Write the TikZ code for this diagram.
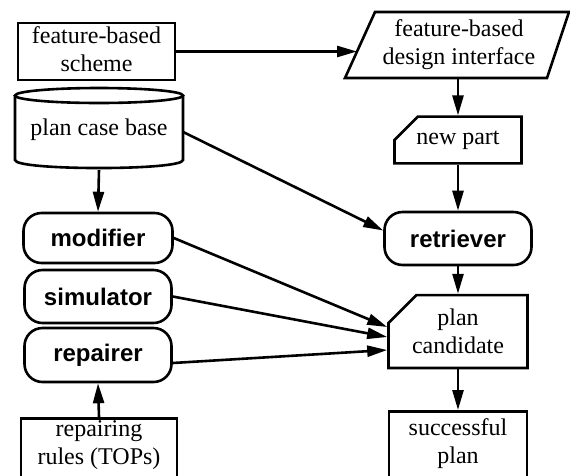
\documentclass[tikz,border=0pt]{standalone}
\usepackage{fontspec}
\setmainfont{Liberation Serif}
\newfontfamily\hsans{Liberation Sans}
\usetikzlibrary{arrows.meta,shapes.misc,calc}
\begin{document}
\begin{tikzpicture}[x=1pt,y=-1pt,
  ln/.style={line width=2.6pt},
  arr/.style={ln,-{Triangle[length=20pt,width=11pt]}},
  txt/.style={inner sep=0pt,align=center,font=\fontsize{24}{28}\selectfont},
  sq/.style={txt,draw,ln},
  rnd/.style={draw,ln,rounded corners=18pt,inner sep=0pt,font=\hsans\bfseries\fontsize{24}{28}\selectfont},
  cham/.style={sq,chamfered rectangle,chamfered rectangle corners=north west,chamfered rectangle xsep=14pt,chamfered rectangle ysep=14pt}
]
\useasboundingbox (0,0) rectangle (570,475);
\clip (0,0) rectangle (570,475);
% left column
\node[sq,minimum width=157pt,minimum height=57pt] (scheme) at (96.5,51.5) {};
\node[txt] (schemetext) at (96.5,49) {feature-based\\scheme};
\node[txt,minimum width=168pt,minimum height=80pt] (cyl) at (99,130) {plan case base};
\draw[ln] (99,95.5) ellipse[x radius=84, y radius=7.5];
\draw[ln] (15,95.5) -- (15,160) .. controls (15,170.7) and (183,170.7) .. (183,160) -- (183,95.5);
\node[rnd,minimum width=149pt,minimum height=50pt] (mod) at (98,238) {modifier};
\node[rnd,minimum width=147pt,minimum height=53pt] (sim) at (98,296.5) {simulator};
\node[rnd,minimum width=147pt,minimum height=54pt] (rep) at (98,355) {repairer};
\node[sq,minimum width=156pt,minimum height=80pt,anchor=north] (rules) at (99,417) {};
\node[txt] (rulestext) at (99,445) {repairing\\rules (TOPs)};
% right column
\draw[ln] (345,78) -- (375,12) -- (569,12) -- (547,78) -- cycle;
\node[txt] (design) at (459,45) {feature-based\\design interface};
\coordinate (din) at (357,51.5);
\coordinate (dout) at (458,78);
\node[cham,minimum width=127pt,minimum height=44pt] (newp) at (458,140) {new part};
\node[rnd,minimum width=147pt,minimum height=53pt] (retr) at (458,238.5) {retriever};
\node[cham,minimum width=139pt,minimum height=63pt] (pc) at (458,331.5) {plan\\candidate};
\node[cham,minimum width=138pt,minimum height=80pt,anchor=north] (succ) at (458,410) {};
\node[txt] (succtext) at (458,444) {successful\\plan};
% connectors
\draw[arr] (scheme.east) -- (din);
\draw[arr] (dout) -- (newp.north);
\draw[arr] (newp.south) -- (retr.north);
\draw[arr] (retr.south) -- (pc.north);
\draw[arr] (pc.south) -- (succ.north);
\draw[arr] (cyl.south) -- (mod.north);
\draw[arr] (rules.north) -- (rep.south);
\draw[arr] ($(cyl.east)+(0,2)$) -- ($(retr.west)+(0,-8)$);
\draw[arr] (mod.east) -- ($(pc.west)+(0,-4.5)$);
\draw[arr] (sim.east) -- ($(pc.west)+(0,5.5)$);
\draw[arr] ($(rep.east)+(0,8)$) -- ($(pc.west)+(0,18.5)$);
\end{tikzpicture}
\end{document}
